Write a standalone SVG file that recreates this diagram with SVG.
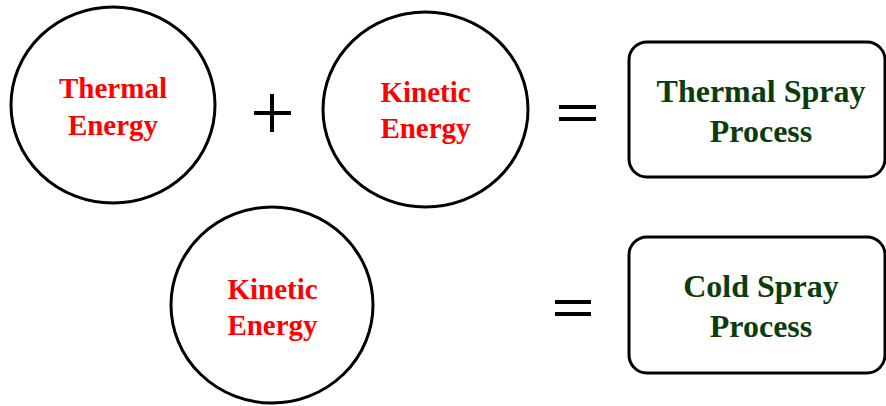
<svg xmlns="http://www.w3.org/2000/svg" width="886" height="406" viewBox="0 0 886 406">
<style>
.node{fill:#fff;stroke:#000;stroke-width:3}
.op{stroke:#000;stroke-width:4;fill:none}
.red{font-family:"Liberation Serif","Times New Roman",serif;font-weight:bold;font-size:29px;fill:#ff0000;text-anchor:middle}
.grn{font-family:"Liberation Serif","Times New Roman",serif;font-weight:bold;font-size:32px;fill:#0b3d0b;text-anchor:middle}
</style>
<rect width="886" height="406" fill="#fff"/>
<g id="thermal-energy">
<ellipse class="node" cx="113" cy="105" rx="102" ry="98"/>
<text class="red" x="113" y="98">Thermal</text>
<text class="red" x="113" y="135">Energy</text>
</g>
<g id="kinetic-energy-top">
<ellipse class="node" cx="425.5" cy="109.5" rx="102.5" ry="97.5"/>
<text class="red" x="425.5" y="102">Kinetic</text>
<text class="red" x="425.5" y="138">Energy</text>
</g>
<g id="kinetic-energy-bottom">
<ellipse class="node" cx="272" cy="305" rx="101" ry="98"/>
<text class="red" x="272.5" y="299">Kinetic</text>
<text class="red" x="272.5" y="335">Energy</text>
</g>
<g id="thermal-spray-process">
<rect class="node" x="629" y="42" width="256" height="135" rx="18" ry="18"/>
<text class="grn" x="761" y="102">Thermal Spray</text>
<text class="grn" x="761" y="142">Process</text>
</g>
<g id="cold-spray-process">
<rect class="node" x="629" y="237" width="256" height="136" rx="18" ry="18"/>
<text class="grn" x="761" y="297">Cold Spray</text>
<text class="grn" x="761" y="337">Process</text>
</g>
<g id="connectors">
<path class="op" d="M254 113H291M272 94V132"/>
<path class="op" d="M559 107H596M559 119H596"/>
<path class="op" d="M555 302H591M555 314H591"/>
</g>
</svg>
